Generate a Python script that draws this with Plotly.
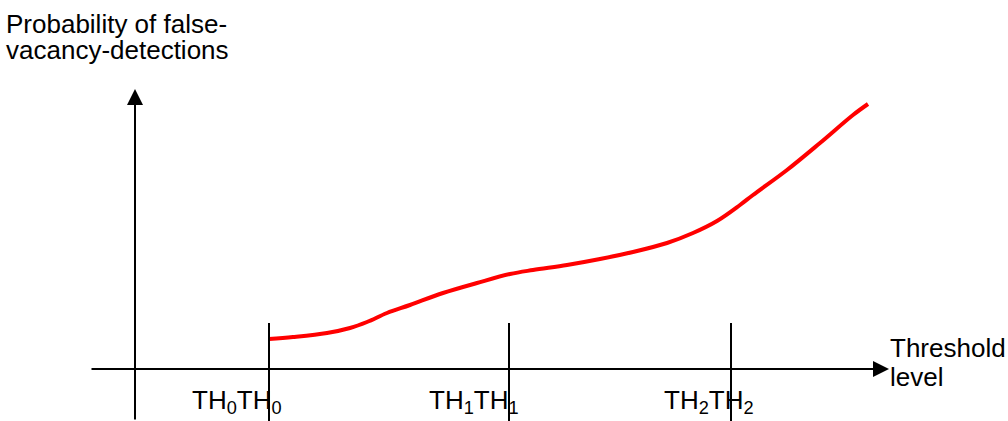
import plotly.graph_objects as go

# Kurven lest av figuren (x = terskelnivå, y = sannsynlighet, vilkårlige enheter fra origo)
kurve_x = [134, 158, 192, 215, 232, 252, 275, 308, 342, 375, 398, 432, 465, 498,
           532, 558, 582, 605, 618, 652, 685, 718, 733]
kurve_y = [30, 32, 36, 41, 47, 56, 64, 76, 86, 95, 99, 104, 110, 117,
           126, 136, 148, 164, 174, 199, 226, 254, 265]

terskler = [134, 374, 596]
terskel_navn = ["TH<sub>0</sub>TH<sub>0</sub>", "TH<sub>1</sub>TH<sub>1</sub>", "TH<sub>2</sub>TH<sub>2</sub>"]
etikett_x = [102, 339, 574]

x_min, x_max = -135, 873
y_min, y_max = -52, 369

FONT = dict(family="Arial, Liberation Sans, sans-serif", size=26, color="black")

fig = go.Figure()

fig.add_trace(go.Scatter(
    x=kurve_x, y=kurve_y, mode="lines",
    line=dict(color="#ff0000", width=4, shape="spline", smoothing=1.0),
    showlegend=False, hoverinfo="skip",
))

# akser med piler
fig.add_annotation(x=0, y=280, ax=0, ay=y_min, xref="x", yref="y", axref="x", ayref="y",
                   showarrow=True, arrowhead=2, arrowsize=1.6, arrowwidth=2,
                   arrowcolor="black", text="", standoff=0)
fig.add_annotation(x=754, y=0, ax=-45, ay=0, xref="x", yref="y", axref="x", ayref="y",
                   showarrow=True, arrowhead=2, arrowsize=1.6, arrowwidth=2,
                   arrowcolor="black", text="", standoff=0)

# terskellinjer og etiketter
for tx, navn, lx in zip(terskler, terskel_navn, etikett_x):
    fig.add_shape(type="line", x0=tx, x1=tx, y0=y_min, y1=46,
                  line=dict(color="black", width=2))
    fig.add_annotation(x=lx, y=-32, text=navn, showarrow=False, font=FONT,
                       xanchor="center", yanchor="middle")

fig.add_annotation(x=-130, y=345, text="Probability of false-", showarrow=False,
                   font=FONT, xanchor="left", yanchor="middle", borderpad=0)
fig.add_annotation(x=-130, y=319, text="vacancy-detections", showarrow=False,
                   font=FONT, xanchor="left", yanchor="middle", borderpad=0)
fig.add_annotation(x=753, y=21, text="Threshold", showarrow=False,
                   font=FONT, xanchor="left", yanchor="middle")
fig.add_annotation(x=753, y=-8, text="level", showarrow=False,
                   font=FONT, xanchor="left", yanchor="middle")

fig.update_xaxes(range=[x_min, x_max], visible=False, fixedrange=True)
fig.update_yaxes(range=[y_min, y_max], visible=False, fixedrange=True)
fig.update_layout(
    width=1008, height=421,
    margin=dict(l=0, r=0, t=0, b=0),
    plot_bgcolor="white", paper_bgcolor="white",
    showlegend=False,
)

fig.write_html("out.html", config={"displayModeBar": False},
               post_script="document.body.style.margin='0';")
